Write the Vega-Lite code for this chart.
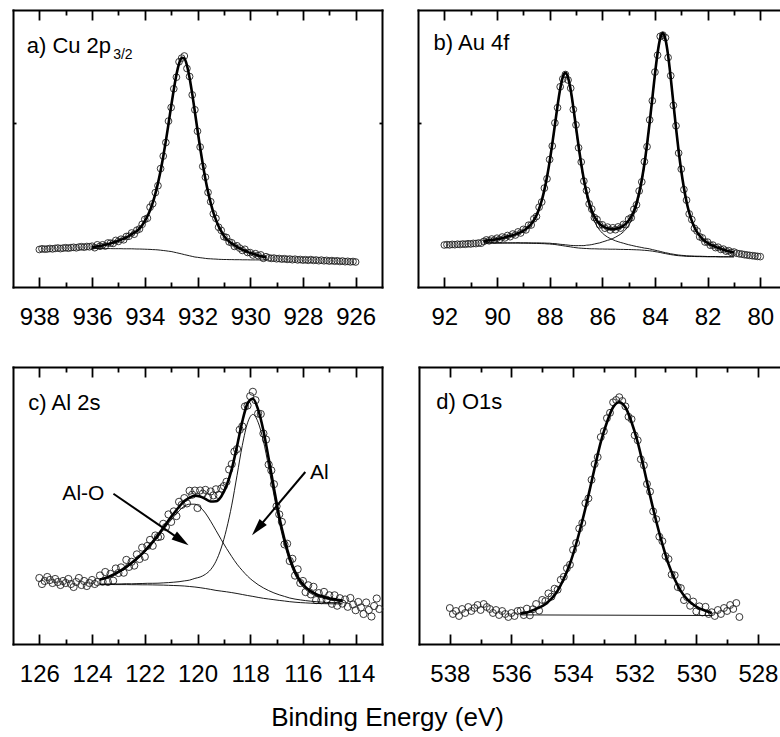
{
"$schema": "https://vega.github.io/schema/vega-lite/v6.json",
"background": "white",
"padding": {"left": 12, "top": 9, "right": 0, "bottom": 2},
"config": {
  "view": {"stroke": null},
  "font": "Liberation Sans",
  "axis": {"domainColor": "black", "domainWidth": 2, "domainCap": "square", "tickColor": "black", "tickWidth": 1.8, "grid": false, "labelFont": "Liberation Sans", "labelFontSize": 24, "labelColor": "black", "labelFlush": false, "labelOverlap": false}
},
"title": {"text": "Binding Energy (eV)", "orient": "bottom", "anchor": "middle", "font": "Liberation Sans", "fontSize": 26, "fontWeight": "normal", "color": "black", "offset": 14, "dx": -9},
"spacing": 32,
"datasets": {
"cu": [
{"x":938.0,"y":37.5},{"x":937.9,"y":38.2},{"x":937.8,"y":37.8},{"x":937.7,"y":38.0},{"x":937.6,"y":38.5},{"x":937.5,"y":38.1},{"x":937.4,"y":38.6},{"x":937.3,"y":39.0},{"x":937.2,"y":38.4},{"x":937.1,"y":38.9},{"x":937.0,"y":39.3},{"x":936.9,"y":38.8},{"x":936.8,"y":39.4},{"x":936.7,"y":39.7},{"x":936.6,"y":39.2},{"x":936.5,"y":39.9},{"x":936.4,"y":40.3},{"x":936.3,"y":39.8},{"x":936.2,"y":40.5},{"x":936.1,"y":40.2},
{"x":936.0,"y":40.8,"fit":40.0,"bg":38.5},{"x":935.9,"y":39.3,"fit":40.3,"bg":38.5},{"x":935.8,"y":42.2,"fit":40.7,"bg":38.5},{"x":935.7,"y":40.7,"fit":41.1,"bg":38.5},{"x":935.6,"y":42.2,"fit":41.6,"bg":38.4},{"x":935.5,"y":41.0,"fit":42.3,"bg":38.4},{"x":935.4,"y":44.0,"fit":42.9,"bg":38.4},{"x":935.3,"y":43.9,"fit":43.7,"bg":38.4},{"x":935.2,"y":43.6,"fit":44.4,"bg":38.3},{"x":935.1,"y":46.6,"fit":45.2,"bg":38.3},
{"x":935.0,"y":45.6,"fit":46.2,"bg":38.3},{"x":934.9,"y":47.8,"fit":47.4,"bg":38.3},{"x":934.8,"y":47.2,"fit":48.4,"bg":38.2},{"x":934.7,"y":50.5,"fit":49.6,"bg":38.2},{"x":934.6,"y":50.8,"fit":51.0,"bg":38.2},{"x":934.5,"y":54.0,"fit":52.8,"bg":38.2},{"x":934.4,"y":52.8,"fit":54.3,"bg":38.1},{"x":934.3,"y":56.8,"fit":56.1,"bg":38.0},{"x":934.2,"y":58.0,"fit":58.5,"bg":38.0},{"x":934.1,"y":62.7,"fit":61.7,"bg":37.9},
{"x":934.0,"y":67.6,"fit":66.0,"bg":37.8},{"x":933.9,"y":68.8,"fit":70.8,"bg":37.7},{"x":933.8,"y":79.8,"fit":76.8,"bg":37.6},{"x":933.7,"y":83.3,"fit":84.1,"bg":37.4},{"x":933.6,"y":94.4,"fit":93.2,"bg":37.3},{"x":933.5,"y":101.3,"fit":103.9,"bg":37.1},{"x":933.4,"y":118.4,"fit":116.2,"bg":36.8},{"x":933.3,"y":130.9,"fit":130.5,"bg":36.5},{"x":933.2,"y":144.5,"fit":146.1,"bg":36.2},{"x":933.1,"y":165.9,"fit":163.1,"bg":35.8},
{"x":933.0,"y":179.5,"fit":180.7,"bg":35.5},{"x":932.9,"y":198.2,"fit":197.4,"bg":34.9},{"x":932.8,"y":209.8,"fit":212.2,"bg":34.3},{"x":932.7,"y":225.2,"fit":223.4,"bg":33.7},{"x":932.6,"y":228.9,"fit":229.3,"bg":33.1},{"x":932.5,"y":231.0,"fit":228.6,"bg":32.4},{"x":932.4,"y":218.5,"fit":221.5,"bg":31.8},{"x":932.3,"y":210.5,"fit":209.1,"bg":31.2},{"x":932.2,"y":192.1,"fit":193.1,"bg":30.6},{"x":932.1,"y":177.2,"fit":175.2,"bg":30.0},
{"x":932.0,"y":155.8,"fit":157.0,"bg":29.7},{"x":931.9,"y":140.0,"fit":139.2,"bg":29.3},{"x":931.8,"y":120.6,"fit":123.0,"bg":29.0},{"x":931.7,"y":109.8,"fit":108.0,"bg":28.6},{"x":931.6,"y":94.6,"fit":95.1,"bg":28.3},{"x":931.5,"y":85.3,"fit":84.1,"bg":28.2},{"x":931.4,"y":73.2,"fit":74.7,"bg":28.0},{"x":931.3,"y":68.6,"fit":67.1,"bg":27.9},{"x":931.2,"y":59.8,"fit":60.8,"bg":27.7},{"x":931.1,"y":56.6,"fit":55.8,"bg":27.6},
{"x":931.0,"y":50.3,"fit":51.3,"bg":27.5},{"x":930.9,"y":49.5,"fit":48.0,"bg":27.5},{"x":930.8,"y":45.1,"fit":45.5,"bg":27.4},{"x":930.7,"y":44.2,"fit":43.6,"bg":27.4},{"x":930.6,"y":40.6,"fit":41.9,"bg":27.3},{"x":930.5,"y":41.2,"fit":40.1,"bg":27.3},{"x":930.4,"y":38.9,"fit":38.7,"bg":27.3},{"x":930.3,"y":36.6,"fit":37.4,"bg":27.2},{"x":930.2,"y":37.7,"fit":36.3,"bg":27.2},{"x":930.1,"y":34.5,"fit":35.1,"bg":27.2},
{"x":930.0,"y":34.4,"fit":34.0,"bg":27.1},{"x":929.9,"y":32.0,"fit":33.2,"bg":27.1},{"x":929.8,"y":33.3,"fit":32.4,"bg":27.1},{"x":929.7,"y":31.4,"fit":31.6,"bg":27.1},{"x":929.6,"y":32.1,"fit":30.9,"bg":27.0},{"x":929.5,"y":28.7,"fit":30.2,"bg":27.0},{"x":929.4,"y":30.3,"fit":29.6,"bg":27.0},
{"x":929.3,"y":29.2},{"x":929.2,"y":28.6},{"x":929.1,"y":28.9},{"x":929.0,"y":28.2},{"x":928.9,"y":28.5},{"x":928.8,"y":27.9},{"x":928.7,"y":28.3},{"x":928.6,"y":27.6},{"x":928.5,"y":28.0},{"x":928.4,"y":27.3},{"x":928.3,"y":27.8},{"x":928.2,"y":27.1},{"x":928.1,"y":27.5},{"x":928.0,"y":26.9},{"x":927.9,"y":27.3},{"x":927.8,"y":26.7},{"x":927.7,"y":27.4},{"x":927.6,"y":26.6},{"x":927.5,"y":27.0},{"x":927.4,"y":26.3},{"x":927.3,"y":26.9},{"x":927.2,"y":26.2},{"x":927.1,"y":26.6},{"x":927.0,"y":25.9},{"x":926.9,"y":26.4},{"x":926.8,"y":25.8},{"x":926.7,"y":26.2},{"x":926.6,"y":25.5},{"x":926.5,"y":26.0},{"x":926.4,"y":25.3},{"x":926.3,"y":25.7},{"x":926.2,"y":25.1},{"x":926.1,"y":25.5},{"x":926.0,"y":25.0}
],
"au": [
{"x":92.0,"y":42.0},{"x":91.9,"y":42.4},{"x":91.8,"y":42.1},{"x":91.7,"y":42.6},{"x":91.6,"y":42.3},{"x":91.5,"y":42.8},{"x":91.4,"y":42.5},{"x":91.3,"y":43.0},{"x":91.2,"y":42.7},{"x":91.1,"y":43.3},{"x":91.0,"y":43.0},{"x":90.9,"y":43.6},{"x":90.8,"y":43.4},{"x":90.7,"y":44.0},{"x":90.6,"y":43.8},
{"x":90.5,"y":45.6,"fit":46.3,"bg":44.0,"c1":46.1,"c2":44.2},{"x":90.4,"y":47.1,"fit":46.4,"bg":44.0,"c1":46.2,"c2":44.2},{"x":90.3,"y":46.2,"fit":46.8,"bg":44.0,"c1":46.6,"c2":44.2},{"x":90.2,"y":48.0,"fit":47.1,"bg":44.0,"c1":46.9,"c2":44.2},{"x":90.1,"y":46.9,"fit":47.4,"bg":44.0,"c1":47.2,"c2":44.2},
{"x":90.0,"y":48.8,"fit":47.9,"bg":43.9,"c1":47.7,"c2":44.1},{"x":89.9,"y":47.6,"fit":48.4,"bg":43.9,"c1":48.2,"c2":44.1},{"x":89.8,"y":50.0,"fit":48.9,"bg":43.9,"c1":48.7,"c2":44.1},{"x":89.7,"y":49.1,"fit":49.7,"bg":43.9,"c1":49.4,"c2":44.2},{"x":89.6,"y":51.5,"fit":50.4,"bg":43.9,"c1":50.1,"c2":44.2},
{"x":89.5,"y":50.3,"fit":51.1,"bg":43.9,"c1":50.8,"c2":44.2},{"x":89.4,"y":53.0,"fit":51.8,"bg":43.9,"c1":51.5,"c2":44.2},{"x":89.3,"y":52.0,"fit":52.6,"bg":43.9,"c1":52.3,"c2":44.2},{"x":89.2,"y":55.1,"fit":53.8,"bg":43.9,"c1":53.3,"c2":44.3},{"x":89.1,"y":54.0,"fit":54.9,"bg":43.8,"c1":54.5,"c2":44.2},
{"x":89.0,"y":57.6,"fit":56.2,"bg":43.8,"c1":55.8,"c2":44.2},{"x":88.9,"y":57.1,"fit":58.0,"bg":43.8,"c1":57.5,"c2":44.2},{"x":88.8,"y":61.8,"fit":60.2,"bg":43.7,"c1":59.7,"c2":44.2},{"x":88.7,"y":62.0,"fit":63.0,"bg":43.7,"c1":62.6,"c2":44.1},{"x":88.6,"y":68.2,"fit":66.8,"bg":43.6,"c1":66.3,"c2":44.1},
{"x":88.5,"y":70.5,"fit":71.6,"bg":43.6,"c1":71.1,"c2":44.1},{"x":88.4,"y":79.8,"fit":78.2,"bg":43.5,"c1":77.6,"c2":44.1},{"x":88.3,"y":85.0,"fit":86.5,"bg":43.4,"c1":85.9,"c2":44.0},{"x":88.2,"y":98.9,"fit":97.1,"bg":43.3,"c1":96.4,"c2":44.0},{"x":88.1,"y":108.2,"fit":110.0,"bg":43.1,"c1":109.3,"c2":43.8},
{"x":88.0,"y":127.5,"fit":125.4,"bg":43.0,"c1":124.6,"c2":43.8},{"x":87.9,"y":141.0,"fit":143.1,"bg":42.7,"c1":142.3,"c2":43.5},{"x":87.8,"y":164.1,"fit":162.0,"bg":42.5,"c1":161.1,"c2":43.4},{"x":87.7,"y":179.3,"fit":181.2,"bg":42.1,"c1":180.2,"c2":43.1},{"x":87.6,"y":200.2,"fit":198.0,"bg":41.7,"c1":197.0,"c2":42.7},
{"x":87.5,"y":208.1,"fit":210.0,"bg":41.3,"c1":208.8,"c2":42.5},{"x":87.4,"y":212.5,"fit":214.2,"bg":40.9,"c1":212.9,"c2":42.2},{"x":87.3,"y":207.0,"fit":209.4,"bg":40.5,"c1":208.0,"c2":41.9},{"x":87.2,"y":198.8,"fit":196.9,"bg":40.1,"c1":195.4,"c2":41.6},{"x":87.1,"y":177.5,"fit":179.6,"bg":39.7,"c1":177.8,"c2":41.5},
{"x":87.0,"y":162.1,"fit":160.0,"bg":39.3,"c1":158.0,"c2":41.3},{"x":86.9,"y":139.2,"fit":141.0,"bg":39.0,"c1":138.6,"c2":41.4},{"x":86.8,"y":125.0,"fit":123.1,"bg":38.8,"c1":120.5,"c2":41.4},{"x":86.7,"y":105.9,"fit":107.6,"bg":38.6,"c1":104.8,"c2":41.4},{"x":86.6,"y":96.6,"fit":94.9,"bg":38.5,"c1":91.6,"c2":41.8},
{"x":86.5,"y":83.1,"fit":84.5,"bg":38.3,"c1":80.8,"c2":42.0},{"x":86.4,"y":77.9,"fit":76.5,"bg":38.2,"c1":72.3,"c2":42.4},{"x":86.3,"y":69.4,"fit":70.5,"bg":38.2,"c1":65.7,"c2":43.0},{"x":86.2,"y":67.5,"fit":66.3,"bg":38.1,"c1":60.8,"c2":43.6},{"x":86.1,"y":62.1,"fit":63.0,"bg":38.0,"c1":56.9,"c2":44.1},
{"x":86.0,"y":62.2,"fit":61.0,"bg":38.0,"c1":54.0,"c2":45.0},{"x":85.9,"y":58.8,"fit":59.6,"bg":37.9,"c1":51.7,"c2":45.8},{"x":85.8,"y":59.9,"fit":58.7,"bg":37.9,"c1":49.9,"c2":46.7},{"x":85.7,"y":57.0,"fit":58.1,"bg":37.8,"c1":48.5,"c2":47.4},{"x":85.6,"y":59.2,"fit":58.0,"bg":37.8,"c1":47.3,"c2":48.5},
{"x":85.5,"y":57.3,"fit":58.2,"bg":37.8,"c1":46.2,"c2":49.8},{"x":85.4,"y":60.1,"fit":58.9,"bg":37.7,"c1":45.3,"c2":51.3},{"x":85.3,"y":58.9,"fit":59.8,"bg":37.6,"c1":44.5,"c2":52.9},{"x":85.2,"y":62.6,"fit":61.3,"bg":37.6,"c1":43.8,"c2":55.1},{"x":85.1,"y":62.3,"fit":63.4,"bg":37.5,"c1":43.0,"c2":57.9},
{"x":85.0,"y":67.8,"fit":66.4,"bg":37.5,"c1":42.3,"c2":61.6},{"x":84.9,"y":69.3,"fit":70.6,"bg":37.4,"c1":41.7,"c2":66.3},{"x":84.8,"y":77.7,"fit":76.1,"bg":37.3,"c1":41.1,"c2":72.3},{"x":84.7,"y":82.2,"fit":83.9,"bg":37.2,"c1":40.5,"c2":80.6},{"x":84.6,"y":96.0,"fit":94.1,"bg":37.1,"c1":40.0,"c2":91.2},
{"x":84.5,"y":105.1,"fit":107.2,"bg":36.9,"c1":39.5,"c2":104.6},{"x":84.4,"y":125.4,"fit":123.2,"bg":36.7,"c1":38.9,"c2":121.0},{"x":84.3,"y":140.3,"fit":142.6,"bg":36.5,"c1":38.6,"c2":140.5},{"x":84.2,"y":167.1,"fit":164.9,"bg":36.2,"c1":38.1,"c2":163.0},{"x":84.1,"y":186.2,"fit":188.5,"bg":35.9,"c1":37.4,"c2":187.0},
{"x":84.0,"y":214.9,"fit":212.7,"bg":35.4,"c1":36.8,"c2":211.3},{"x":83.9,"y":231.8,"fit":234.0,"bg":35.0,"c1":36.2,"c2":232.8},{"x":83.8,"y":250.6,"fit":248.9,"bg":34.5,"c1":35.6,"c2":247.8},{"x":83.7,"y":251.9,"fit":253.9,"bg":33.9,"c1":34.9,"c2":252.9},{"x":83.6,"y":249.3,"fit":247.6,"bg":33.4,"c1":34.3,"c2":246.7},
{"x":83.5,"y":229.4,"fit":231.6,"bg":32.9,"c1":33.8,"c2":230.7},{"x":83.4,"y":211.3,"fit":209.1,"bg":32.4,"c1":33.2,"c2":208.3},{"x":83.3,"y":181.6,"fit":183.9,"bg":32.0,"c1":32.8,"c2":183.1},{"x":83.2,"y":161.2,"fit":159.1,"bg":31.6,"c1":32.3,"c2":158.4},{"x":83.1,"y":133.9,"fit":136.0,"bg":31.3,"c1":32.0,"c2":135.3},
{"x":83.0,"y":117.9,"fit":116.0,"bg":31.1,"c1":31.7,"c2":115.4},{"x":82.9,"y":97.4,"fit":99.2,"bg":30.9,"c1":31.5,"c2":98.6},{"x":82.8,"y":86.9,"fit":85.3,"bg":30.7,"c1":31.2,"c2":84.8},{"x":82.7,"y":73.1,"fit":74.5,"bg":30.6,"c1":31.1,"c2":74.0},{"x":82.6,"y":67.4,"fit":66.1,"bg":30.6,"c1":31.0,"c2":65.6},
{"x":82.5,"y":58.7,"fit":59.8,"bg":30.5,"c1":30.9,"c2":59.4},{"x":82.4,"y":56.0,"fit":54.9,"bg":30.4,"c1":30.8,"c2":54.5},{"x":82.3,"y":50.2,"fit":51.2,"bg":30.4,"c1":30.8,"c2":50.8},{"x":82.2,"y":49.1,"fit":48.2,"bg":30.3,"c1":30.7,"c2":47.8},{"x":82.1,"y":45.0,"fit":45.9,"bg":30.3,"c1":30.6,"c2":45.6},
{"x":82.0,"y":44.9,"fit":44.1,"bg":30.2,"c1":30.5,"c2":43.8},{"x":81.9,"y":41.8,"fit":42.5,"bg":30.2,"c1":30.5,"c2":42.2},{"x":81.8,"y":41.9,"fit":41.2,"bg":30.2,"c1":30.5,"c2":40.9},{"x":81.7,"y":39.4,"fit":40.1,"bg":30.2,"c1":30.5,"c2":39.8},{"x":81.6,"y":39.8,"fit":39.2,"bg":30.1,"c1":30.4,"c2":38.9},
{"x":81.5,"y":37.6,"fit":38.2,"bg":30.1,"c1":30.3,"c2":38.0},{"x":81.4,"y":37.9,"fit":37.3,"bg":30.1,"c1":30.3,"c2":37.1},{"x":81.3,"y":35.9,"fit":36.4,"bg":30.1,"c1":30.3,"c2":36.2},{"x":81.2,"y":36.3,"fit":35.8,"bg":30.1,"c1":30.3,"c2":35.6},{"x":81.1,"y":34.6,"fit":35.1,"bg":30.1,"c1":30.3,"c2":34.9},
{"x":81.0,"y":35.0,"fit":34.5,"bg":30.1,"c1":30.3,"c2":34.3},
{"x":80.9,"y":33.8},{"x":80.8,"y":33.2},{"x":80.7,"y":32.9},{"x":80.6,"y":32.3},{"x":80.5,"y":32.0},{"x":80.4,"y":31.6},{"x":80.3,"y":31.3},{"x":80.2,"y":31.0},{"x":80.1,"y":30.6},{"x":80.0,"y":30.4}
],
"al": [
{"x":126.0,"y":66},{"x":125.9,"y":60},{"x":125.8,"y":63},{"x":125.7,"y":67},{"x":125.6,"y":64},{"x":125.5,"y":61},{"x":125.4,"y":65},{"x":125.3,"y":62},{"x":125.2,"y":59},{"x":125.1,"y":63},{"x":125.0,"y":61},{"x":124.9,"y":65},{"x":124.8,"y":60},{"x":124.7,"y":57},{"x":124.6,"y":62},{"x":124.5,"y":66},{"x":124.4,"y":59},{"x":124.3,"y":63},{"x":124.2,"y":58},{"x":124.1,"y":61},{"x":124.0,"y":64},{"x":123.9,"y":60},{"x":123.8,"y":62},
{"x":123.7,"y":68.5,"fit":64.5,"bg":59.5,"cA":64.0,"cB":60.0},{"x":123.6,"y":62.2},
{"x":123.5,"y":72.0,"fit":66.0,"bg":59.5,"cA":65.5,"cB":60.0},{"x":123.4,"y":62.0},
{"x":123.3,"y":70.1,"fit":68.1,"bg":59.5,"cA":67.5,"cB":60.1},{"x":123.2,"y":63.3},
{"x":123.1,"y":75.5,"fit":70.5,"bg":59.4,"cA":69.9,"cB":60.0},{"x":123.0,"y":71.0},
{"x":122.9,"y":76.6,"fit":73.6,"bg":59.4,"cA":72.9,"cB":60.1},{"x":122.8,"y":71.3},
{"x":122.7,"y":84.1,"fit":77.1,"bg":59.4,"cA":76.2,"cB":60.3},{"x":122.6,"y":77.1},
{"x":122.5,"y":82.2,"fit":81.2,"bg":59.3,"cA":80.3,"cB":60.2},{"x":122.4,"y":78.4},
{"x":122.3,"y":89.6,"fit":85.6,"bg":59.3,"cA":84.5,"cB":60.4},{"x":122.2,"y":85.0},
{"x":122.1,"y":96.4,"fit":90.4,"bg":59.2,"cA":89.1,"cB":60.5},{"x":122.0,"y":87.2},
{"x":121.9,"y":98.1,"fit":96.1,"bg":59.2,"cA":94.6,"cB":60.7},{"x":121.8,"y":104.1},
{"x":121.7,"y":98.2,"fit":102.2,"bg":59.1,"cA":100.6,"cB":60.7},{"x":121.6,"y":108.5},
{"x":121.5,"y":106.9,"fit":108.9,"bg":59.0,"cA":107.1,"cB":60.8},{"x":121.4,"y":107.5},
{"x":121.3,"y":120.2,"fit":116.2,"bg":58.9,"cA":114.0,"cB":61.1},{"x":121.2,"y":116.9},
{"x":121.1,"y":129.6,"fit":123.6,"bg":58.7,"cA":120.9,"cB":61.4},{"x":121.0,"y":122.1},
{"x":120.9,"y":132.6,"fit":130.6,"bg":58.5,"cA":127.3,"cB":61.8},{"x":120.8,"y":127.9},
{"x":120.7,"y":142.2,"fit":137.2,"bg":58.3,"cA":133.2,"cB":62.3},{"x":120.6,"y":139.1},
{"x":120.5,"y":145.9,"fit":142.9,"bg":58.0,"cA":137.8,"cB":63.1},{"x":120.4,"y":140.6},
{"x":120.3,"y":153.2,"fit":146.2,"bg":57.5,"cA":139.8,"cB":63.9},{"x":120.2,"y":149.3},
{"x":120.1,"y":153.4,"fit":148.4,"bg":57.0,"cA":139.8,"cB":65.6},{"x":120.0,"y":136.0},
{"x":119.9,"y":153.5,"fit":147.5,"bg":56.3,"cA":136.8,"cB":67.0},{"x":119.8,"y":150.3},
{"x":119.7,"y":154.1,"fit":145.1,"bg":55.5,"cA":130.9,"cB":69.7},{"x":119.6,"y":146.8},
{"x":119.5,"y":152.5,"fit":142.5,"bg":54.6,"cA":122.7,"cB":74.4},{"x":119.4,"y":148.6},
{"x":119.3,"y":154.7,"fit":142.7,"bg":53.6,"cA":113.6,"cB":82.7},{"x":119.2,"y":149.1},
{"x":119.1,"y":155.5,"fit":147.5,"bg":52.9,"cA":104.4,"cB":96.0},{"x":119.0,"y":157.9},
{"x":118.9,"y":162.2,"fit":158.2,"bg":52.2,"cA":95.6,"cB":114.8},{"x":118.8,"y":174.5},
{"x":118.7,"y":179.9,"fit":174.9,"bg":51.4,"cA":87.4,"cB":138.9},{"x":118.6,"y":192.4},
{"x":118.5,"y":194.9,"fit":197.9,"bg":50.5,"cA":79.8,"cB":168.6},{"x":118.4,"y":214.2},
{"x":118.3,"y":217.6,"fit":222.6,"bg":49.5,"cA":73.5,"cB":198.6},{"x":118.2,"y":237.5},
{"x":118.1,"y":238.5,"fit":240.5,"bg":48.5,"cA":67.8,"cB":221.2},{"x":118.0,"y":247.8},
{"x":117.9,"y":252.2,"fit":245.2,"bg":47.6,"cA":63.2,"cB":229.6},{"x":117.8,"y":243.8},
{"x":117.7,"y":230.4,"fit":234.4,"bg":46.6,"cA":59.3,"cB":221.7},{"x":117.6,"y":230.0},
{"x":117.5,"y":210.5,"fit":213.5,"bg":45.7,"cA":56.1,"cB":203.1},{"x":117.4,"y":204.4},
{"x":117.3,"y":179.4,"fit":185.4,"bg":45.0,"cA":53.4,"cB":177.0},{"x":117.2,"y":173.6},
{"x":117.1,"y":159.8,"fit":155.8,"bg":44.3,"cA":51.1,"cB":149.0},{"x":117.0,"y":137.7},
{"x":116.9,"y":129.6,"fit":127.6,"bg":43.6,"cA":49.2,"cB":122.0},{"x":116.8,"y":122.1},
{"x":116.7,"y":99.6,"fit":104.6,"bg":43.0,"cA":47.6,"cB":100.0},{"x":116.6,"y":100.3},
{"x":116.5,"y":83.0,"fit":86.0,"bg":42.3,"cA":46.0,"cB":82.3},{"x":116.4,"y":85.2},
{"x":116.3,"y":68.4,"fit":72.4,"bg":41.8,"cA":44.9,"cB":69.3},{"x":116.2,"y":74.7},
{"x":116.1,"y":61.0,"fit":63.0,"bg":41.4,"cA":44.1,"cB":60.3},{"x":116.0,"y":63.0},
{"x":115.9,"y":51.9,"fit":56.9,"bg":41.1,"cA":43.4,"cB":54.6},{"x":115.8,"y":58.7},
{"x":115.7,"y":49.6,"fit":52.6,"bg":40.8,"cA":42.8,"cB":50.6},{"x":115.6,"y":57.2},
{"x":115.5,"y":43.9,"fit":49.9,"bg":40.6,"cA":42.3,"cB":48.2},{"x":115.4,"y":50.9},
{"x":115.3,"y":43.9,"fit":47.9,"bg":40.4,"cA":41.9,"cB":46.4},{"x":115.2,"y":52.1},
{"x":115.1,"y":44.3,"fit":46.3,"bg":40.3,"cA":41.6,"cB":45.0},{"x":115.0,"y":48.7},
{"x":114.9,"y":40.2,"fit":45.2,"bg":40.2,"cA":41.4,"cB":44.0},{"x":114.8,"y":48.7},
{"x":114.7,"y":38.3,"fit":44.3,"bg":40.1,"cA":41.2,"cB":43.2},{"x":114.6,"y":45.8},
{"x":114.5,"y":40.4,"fit":43.4,"bg":40.0,"cA":40.9,"cB":42.5},
{"x":114.4,"y":44.5},{"x":114.3,"y":37.2},{"x":114.2,"y":46.0},{"x":114.1,"y":39.5},{"x":114.0,"y":33.8},{"x":113.9,"y":42.0},{"x":113.8,"y":36.5},{"x":113.7,"y":30.0},{"x":113.6,"y":41.5},{"x":113.5,"y":34.0},{"x":113.4,"y":27.5},{"x":113.3,"y":38.0},{"x":113.2,"y":45.5},{"x":113.1,"y":35.0}
],
"ox": [
{"x":538.0,"y":36},{"x":537.9,"y":30},{"x":537.8,"y":33},{"x":537.7,"y":28},{"x":537.6,"y":35},{"x":537.5,"y":31},{"x":537.4,"y":37},{"x":537.3,"y":33},{"x":537.2,"y":36},{"x":537.1,"y":39},{"x":537.0,"y":34},{"x":536.9,"y":40},{"x":536.8,"y":37},{"x":536.7,"y":35},{"x":536.6,"y":31},{"x":536.5,"y":34},{"x":536.4,"y":29},{"x":536.3,"y":33},{"x":536.2,"y":30},{"x":536.1,"y":27},{"x":536.0,"y":31},{"x":535.9,"y":28},{"x":535.8,"y":33},
{"x":535.7,"y":33.4,"fit":30.4,"bg":29.1},{"x":535.6,"y":28.9},
{"x":535.5,"y":35.4,"fit":31.4},{"x":535.4,"y":28.6},
{"x":535.3,"y":34.8,"fit":33.8},{"x":535.2,"y":40.0},
{"x":535.1,"y":33.3,"fit":36.3},{"x":535.0,"y":44.1},
{"x":534.9,"y":42.9,"fit":39.9},{"x":534.8,"y":50.6},
{"x":534.7,"y":47.3,"fit":45.3},{"x":534.6,"y":55.3},
{"x":534.5,"y":54.3,"fit":53.3},{"x":534.4,"y":64.2},
{"x":534.3,"y":67.2,"fit":65.2},{"x":534.2,"y":75.7},
{"x":534.1,"y":79.3,"fit":80.3},{"x":534.0,"y":94.1},
{"x":533.9,"y":101.0,"fit":100.0},{"x":533.8,"y":115.5},
{"x":533.7,"y":121.0,"fit":123.0},{"x":533.6,"y":140.8},
{"x":533.5,"y":145.6,"fit":148.6},{"x":533.4,"y":164.2},
{"x":533.3,"y":179.9,"fit":175.9},{"x":533.2,"y":186.9},
{"x":533.1,"y":206.9,"fit":201.9},{"x":533.0,"y":212.8},
{"x":532.9,"y":225.8,"fit":221.8},{"x":532.8,"y":231.2},
{"x":532.7,"y":241.7,"fit":236.7},{"x":532.6,"y":244.0},
{"x":532.5,"y":246.8,"fit":241.8},{"x":532.4,"y":243.0},
{"x":532.3,"y":237.7,"fit":236.7},{"x":532.2,"y":227.2},
{"x":532.1,"y":224.8,"fit":221.8},{"x":532.0,"y":208.7},
{"x":531.9,"y":203.7,"fit":201.7},{"x":531.8,"y":184.7},
{"x":531.7,"y":178.7,"fit":175.7},{"x":531.6,"y":160.0},
{"x":531.5,"y":152.4,"fit":148.4},{"x":531.4,"y":132.6},
{"x":531.3,"y":124.8,"fit":122.8},{"x":531.2,"y":107.3},
{"x":531.1,"y":102.8,"fit":99.8},{"x":531.0,"y":87.9},
{"x":530.9,"y":84.9,"fit":79.9},{"x":530.8,"y":69.4},
{"x":530.7,"y":68.8,"fit":64.8},{"x":530.6,"y":56.9},
{"x":530.5,"y":55.9,"fit":52.9},{"x":530.4,"y":43.9},
{"x":530.3,"y":46.9,"fit":44.9},{"x":530.2,"y":38.2},
{"x":530.1,"y":42.5,"fit":39.5},{"x":530.0,"y":32.6},
{"x":529.9,"y":37.7,"fit":35.7},{"x":529.8,"y":31.5},
{"x":529.7,"y":37.2,"fit":33.2},{"x":529.6,"y":30.0},
{"x":529.5,"y":31.8,"fit":30.8,"bg":28.5},
{"x":529.4,"y":28},{"x":529.3,"y":34},{"x":529.2,"y":30},{"x":529.1,"y":36},{"x":529.0,"y":33},{"x":528.9,"y":39},{"x":528.8,"y":35},{"x":528.7,"y":41},{"x":528.6,"y":27}
]
},
"vconcat": [
{
"spacing": 34,
"hconcat": [
{
"width": 369, "height": 277,
"data": {"name": "cu"},
"layer": [
{"mark": {"type": "point", "shape": "circle", "filled": false, "size": 45, "stroke": "#222", "strokeWidth": 0.9, "opacity": 1},
 "encoding": {
  "x": {"field": "x", "type": "quantitative", "scale": {"domain": [925, 939], "reverse": true, "nice": false, "zero": false},
        "axis": {"orient": "bottom", "title": null, "values": [926,927,928,929,930,931,932,933,934,935,936,937,938], "tickSize": {"condition": {"test": "datum.value % 2 === 0", "value": -10}, "value": -5}, "labelExpr": "datum.value % 2 === 0 ? datum.label : ''", "labelPadding": 28}},
  "y": {"field": "y", "type": "quantitative", "scale": {"domain": [0, 277], "nice": false, "zero": false},
        "axis": {"orient": "left", "title": null, "values": [164], "tickSize": -3, "labels": false}}}},
{"transform": [{"filter": "isValid(datum.fit)"}],
 "mark": {"type": "line", "interpolate": "monotone", "stroke": "black", "strokeWidth": 2.6},
 "encoding": {
  "x": {"field": "x", "type": "quantitative", "axis": {"orient": "top", "title": null, "values": [926,927,928,929,930,931,932,933,934,935,936,937,938], "tickSize": {"condition": {"test": "datum.value % 2 === 0", "value": -10}, "value": -5}, "labels": false}},
  "y": {"field": "fit", "type": "quantitative", "axis": {"orient": "right", "title": null, "values": [164], "tickSize": -3, "labels": false}}}},
{"transform": [{"fold": ["bg"]}, {"filter": "isValid(datum.value)"}],
 "mark": {"type": "line", "interpolate": "monotone", "stroke": "black", "strokeWidth": 0.9},
 "encoding": {"x": {"field": "x", "type": "quantitative", "axis": null}, "y": {"field": "value", "type": "quantitative", "axis": null}, "detail": {"field": "key"}}},
{"data": {"values": [{"x": 938.48, "y": 233.7, "t": "a) Cu 2p"}]},
 "mark": {"type": "text", "align": "left", "baseline": "alphabetic", "fontSize": 22, "font": "Liberation Sans", "color": "black"},
 "encoding": {"x": {"field": "x", "type": "quantitative", "axis": null}, "y": {"field": "y", "type": "quantitative", "axis": null}, "text": {"field": "t"}}},
{"data": {"values": [{"x": 935.2, "y": 228, "t": "3/2"}]},
 "mark": {"type": "text", "align": "left", "baseline": "alphabetic", "fontSize": 14, "font": "Liberation Sans", "color": "black"},
 "encoding": {"x": {"field": "x", "type": "quantitative", "axis": null}, "y": {"field": "y", "type": "quantitative", "axis": null}, "text": {"field": "t"}}}
],
"resolve": {"axis": {"x": "independent", "y": "independent"}}
},
{
"width": 362, "height": 277,
"data": {"name": "au"},
"layer": [
{"mark": {"type": "point", "shape": "circle", "filled": false, "size": 45, "stroke": "#222", "strokeWidth": 0.9, "opacity": 1},
 "encoding": {
  "x": {"field": "x", "type": "quantitative", "scale": {"domain": [79.25, 93], "reverse": true, "nice": false, "zero": false},
        "axis": {"orient": "bottom", "title": null, "values": [80,81,82,83,84,85,86,87,88,89,90,91,92], "tickSize": {"condition": {"test": "datum.value % 2 === 0", "value": -10}, "value": -5}, "labelExpr": "datum.value % 2 === 0 ? datum.label : ''", "labelPadding": 28}},
  "y": {"field": "y", "type": "quantitative", "scale": {"domain": [0, 277], "nice": false, "zero": false},
        "axis": {"orient": "left", "title": null, "values": [164], "tickSize": -3, "labels": false}}}},
{"transform": [{"filter": "isValid(datum.fit)"}],
 "mark": {"type": "line", "interpolate": "monotone", "stroke": "black", "strokeWidth": 2.6},
 "encoding": {
  "x": {"field": "x", "type": "quantitative", "axis": {"orient": "top", "title": null, "values": [80,81,82,83,84,85,86,87,88,89,90,91,92], "tickSize": {"condition": {"test": "datum.value % 2 === 0", "value": -10}, "value": -5}, "labels": false}},
  "y": {"field": "fit", "type": "quantitative", "axis": null}}},
{"transform": [{"fold": ["bg", "c1", "c2"]}, {"filter": "isValid(datum.value)"}],
 "mark": {"type": "line", "interpolate": "monotone", "stroke": "black", "strokeWidth": 0.9},
 "encoding": {"x": {"field": "x", "type": "quantitative", "axis": null}, "y": {"field": "value", "type": "quantitative", "axis": null}, "detail": {"field": "key"}}},
{"data": {"values": [{"x": 92.41, "y": 237, "t": "b) Au 4f"}]},
 "mark": {"type": "text", "align": "left", "baseline": "alphabetic", "fontSize": 22, "font": "Liberation Sans", "color": "black"},
 "encoding": {"x": {"field": "x", "type": "quantitative", "axis": null}, "y": {"field": "y", "type": "quantitative", "axis": null}, "text": {"field": "t"}}}
],
"resolve": {"axis": {"x": "independent", "y": "independent"}}
}
]
},
{
"spacing": 34,
"hconcat": [
{
"width": 369, "height": 277,
"data": {"name": "al"},
"layer": [
{"mark": {"type": "point", "shape": "circle", "filled": false, "size": 52, "stroke": "#222", "strokeWidth": 0.9, "opacity": 1},
 "encoding": {
  "x": {"field": "x", "type": "quantitative", "scale": {"domain": [113, 127], "reverse": true, "nice": false, "zero": false},
        "axis": {"orient": "bottom", "title": null, "values": [114,115,116,117,118,119,120,121,122,123,124,125,126], "tickSize": {"condition": {"test": "datum.value % 2 === 0", "value": -10}, "value": -5}, "labelExpr": "datum.value % 2 === 0 ? datum.label : ''", "labelPadding": 28}},
  "y": {"field": "y", "type": "quantitative", "scale": {"domain": [0, 277], "nice": false, "zero": false},
        "axis": {"orient": "left", "title": null, "values": [], "labels": false}}}},
{"transform": [{"filter": "isValid(datum.fit)"}],
 "mark": {"type": "line", "interpolate": "monotone", "stroke": "black", "strokeWidth": 2.6},
 "encoding": {
  "x": {"field": "x", "type": "quantitative", "axis": {"orient": "top", "title": null, "values": [114,115,116,117,118,119,120,121,122,123,124,125,126], "tickSize": {"condition": {"test": "datum.value % 2 === 0", "value": -10}, "value": -5}, "labels": false}},
  "y": {"field": "fit", "type": "quantitative", "axis": {"orient": "right", "title": null, "values": [], "labels": false}}}},
{"transform": [{"fold": ["bg", "cA", "cB"]}, {"filter": "isValid(datum.value)"}],
 "mark": {"type": "line", "interpolate": "monotone", "stroke": "black", "strokeWidth": 0.9},
 "encoding": {"x": {"field": "x", "type": "quantitative", "axis": null}, "y": {"field": "value", "type": "quantitative", "axis": null}, "detail": {"field": "key"}}},
{"data": {"values": [{"x": 126.42, "y": 233.7, "t": "c) Al 2s"}]},
 "mark": {"type": "text", "align": "left", "baseline": "alphabetic", "fontSize": 22, "font": "Liberation Sans", "color": "black"},
 "encoding": {"x": {"field": "x", "type": "quantitative", "axis": null}, "y": {"field": "y", "type": "quantitative", "axis": null}, "text": {"field": "t"}}},
{"data": {"values": [{"x": 124.33, "y": 144, "t": "Al-O"}, {"x": 115.38, "y": 165.3, "t": "Al"}]},
 "mark": {"type": "text", "align": "center", "baseline": "alphabetic", "fontSize": 21, "font": "Liberation Sans", "color": "black"},
 "encoding": {"x": {"field": "x", "type": "quantitative", "axis": null}, "y": {"field": "y", "type": "quantitative", "axis": null}, "text": {"field": "t"}}},
{"data": {"values": [{"x": 123.19, "y": 150.3, "x2": 120.61, "y2": 103.6}, {"x": 115.91, "y": 172, "x2": 117.72, "y2": 115.4}]},
 "mark": {"type": "rule", "strokeWidth": 2, "color": "black"},
 "encoding": {"x": {"field": "x", "type": "quantitative", "axis": null}, "y": {"field": "y", "type": "quantitative", "axis": null}, "x2": {"field": "x2"}, "y2": {"field": "y2"}}},
{"data": {"values": [{"x": 120.61, "y": 103.6}]},
 "mark": {"type": "point", "shape": "M0,-1L-0.55,1L0.55,1Z", "filled": true, "color": "black", "size": 300, "angle": 124.5, "opacity": 1},
 "encoding": {"x": {"field": "x", "type": "quantitative", "axis": null}, "y": {"field": "y", "type": "quantitative", "axis": null}}},
{"data": {"values": [{"x": 117.72, "y": 115.4}]},
 "mark": {"type": "point", "shape": "M0,-1L-0.55,1L0.55,1Z", "filled": true, "color": "black", "size": 300, "angle": 220.1, "opacity": 1},
 "encoding": {"x": {"field": "x", "type": "quantitative", "axis": null}, "y": {"field": "y", "type": "quantitative", "axis": null}}}
],
"resolve": {"axis": {"x": "independent", "y": "independent"}}
},
{
"width": 362, "height": 277,
"data": {"name": "ox"},
"layer": [
{"mark": {"type": "point", "shape": "circle", "filled": false, "size": 48, "stroke": "#222", "strokeWidth": 0.9, "opacity": 1},
 "encoding": {
  "x": {"field": "x", "type": "quantitative", "scale": {"domain": [527.25, 539], "reverse": true, "nice": false, "zero": false},
        "axis": {"orient": "bottom", "title": null, "values": [528,529,530,531,532,533,534,535,536,537,538], "tickSize": {"condition": {"test": "datum.value % 2 === 0", "value": -10}, "value": -5}, "labelExpr": "datum.value % 2 === 0 ? datum.label : ''", "labelPadding": 28}},
  "y": {"field": "y", "type": "quantitative", "scale": {"domain": [0, 277], "nice": false, "zero": false},
        "axis": {"orient": "left", "title": null, "values": [], "labels": false}}}},
{"transform": [{"filter": "isValid(datum.fit)"}],
 "mark": {"type": "line", "interpolate": "monotone", "stroke": "black", "strokeWidth": 2.6},
 "encoding": {
  "x": {"field": "x", "type": "quantitative", "axis": {"orient": "top", "title": null, "values": [528,529,530,531,532,533,534,535,536,537,538], "tickSize": {"condition": {"test": "datum.value % 2 === 0", "value": -10}, "value": -5}, "labels": false}},
  "y": {"field": "fit", "type": "quantitative", "axis": null}}},
{"transform": [{"fold": ["bg"]}, {"filter": "isValid(datum.value)"}],
 "mark": {"type": "line", "stroke": "black", "strokeWidth": 0.9},
 "encoding": {"x": {"field": "x", "type": "quantitative", "axis": null}, "y": {"field": "value", "type": "quantitative", "axis": null}, "detail": {"field": "key"}}},
{"data": {"values": [{"x": 538.44, "y": 235.3, "t": "d) O1s"}]},
 "mark": {"type": "text", "align": "left", "baseline": "alphabetic", "fontSize": 22, "font": "Liberation Sans", "color": "black"},
 "encoding": {"x": {"field": "x", "type": "quantitative", "axis": null}, "y": {"field": "y", "type": "quantitative", "axis": null}, "text": {"field": "t"}}}
],
"resolve": {"axis": {"x": "independent", "y": "independent"}}
}
]
}
]
}
